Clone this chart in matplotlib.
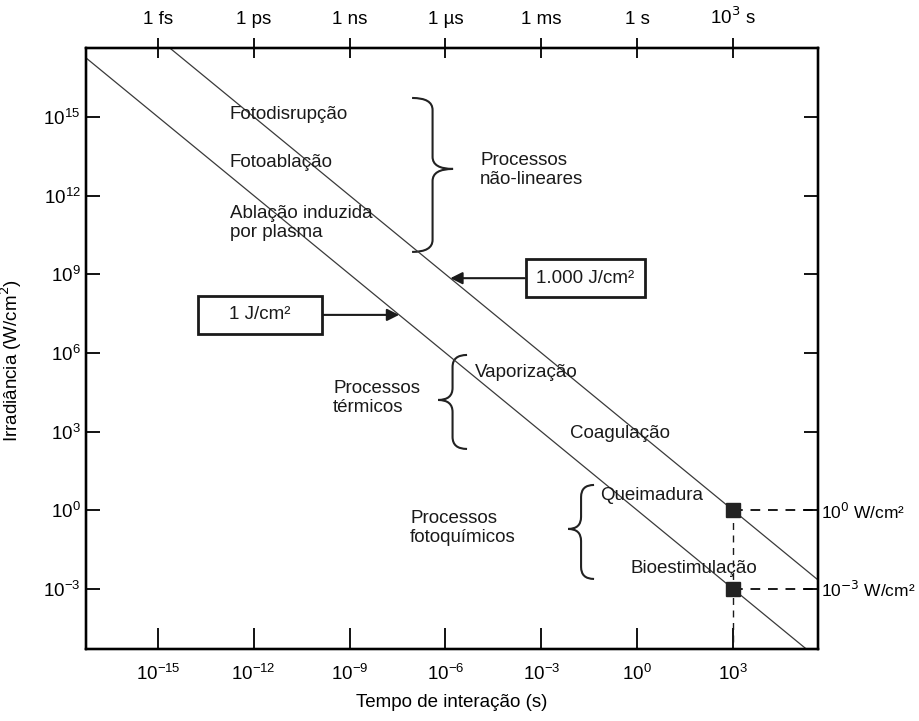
import matplotlib
matplotlib.use('Agg')
import matplotlib.pyplot as plt
from matplotlib.path import Path
from matplotlib.patches import PathPatch
from matplotlib.ticker import NullLocator

plt.rcParams['font.family'] = ['Liberation Sans', 'DejaVu Sans']
plt.rcParams['font.size'] = 13.5
plt.rcParams['text.color'] = '#1a1a1a'

# data
line_t = [1e-18, 1e6]            # interaction time (s), line ends
line_1J = [1e18, 1e-6]           # irradiance for 1 J/cm2
line_1000J = [1e21, 1e-3]        # irradiance for 1000 J/cm2
x_ticks = [1e-15, 1e-12, 1e-9, 1e-6, 1e-3, 1e0, 1e3]
top_labels = ['1 fs', '1 ps', '1 ns', '1 \u00b5s', '1 ms', '1 s', '10$^3$ s']
y_ticks = [1e-3, 1e0, 1e3, 1e6, 1e9, 1e12, 1e15]
right_labels = ['10$^{-3}$ W/cm\u00b2', '10$^0$ W/cm\u00b2', '', '', '', '', '']
marker_t = 1e3
marker_irr = [1e0, 1e-3]
arrow_1J = (10**-7.45, 10**7.45)
arrow_1000J = (10**-5.85, 10**8.85)
xlim = (10**-17.25, 10**5.66)
ylim = (10**-5.29, 10**17.63)

fig = plt.figure(figsize=(9.2, 7.21), dpi=100)
ax = fig.add_axes([0.0935, 0.0999, 0.7957, 0.8336])

for irr in [line_1J, line_1000J]:
    ax.plot(line_t, irr, color='#3a3a3a', lw=0.9)

ax.set_xscale('log')
ax.set_yscale('log')
ax.set_xlim(xlim)
ax.set_ylim(ylim)
ax.set_xticks(x_ticks)
ax.set_yticks(y_ticks)
ax.xaxis.set_minor_locator(NullLocator())
ax.yaxis.set_minor_locator(NullLocator())
ax.tick_params(axis='x', direction='in', length=15, width=1.3, pad=11)
ax.tick_params(axis='y', direction='in', length=10, width=1.3, pad=4)
for s in ax.spines.values():
    s.set_linewidth(1.6)

ax.set_xlabel('Tempo de intera\u00e7\u00e3o (s)', labelpad=7)
ax.set_ylabel('Irradi\u00e2ncia (W/cm$^2$)')
ax.yaxis.set_label_coords(-0.085, 0.48)

# top axis with time units
axt = ax.twiny()
axt.set_xscale('log')
axt.set_xlim(xlim)
axt.set_xticks(x_ticks)
axt.set_xticklabels(top_labels)
axt.xaxis.set_minor_locator(NullLocator())
axt.tick_params(axis='x', direction='inout', length=15, width=1.3, pad=7)

# right axis
axr = ax.twinx()
axr.set_yscale('log')
axr.set_ylim(ylim)
axr.set_yticks(y_ticks)
axr.set_yticklabels(right_labels, fontsize=12.5)
axr.yaxis.set_minor_locator(NullLocator())
axr.tick_params(axis='y', direction='in', length=10, width=1.3, pad=2)
for a in [axt, axr]:
    for s in a.spines.values():
        s.set_linewidth(1.6)

# marked points and dashed guides
for irr in marker_irr:
    ax.plot([marker_t, xlim[1]], [irr, irr], color='#1a1a1a', lw=1.4, ls=(0, (5, 4)))
ax.plot([marker_t, marker_t], [max(marker_irr), ylim[0]], color='#1a1a1a', lw=1.0, ls=(0, (5, 4)))
ax.plot([marker_t] * len(marker_irr), marker_irr, 's', color='#222222', ms=10, zorder=5)

# labelled boxes with arrows
box = dict(boxstyle='square,pad=0.55', fc='white', ec='#1a1a1a', lw=2)
arrow = dict(arrowstyle='-|>', color='#1a1a1a', lw=1.5, mutation_scale=18, shrinkA=0, shrinkB=0)
ax.annotate('1.000 J/cm\u00b2', xy=arrow_1000J, xytext=(10**-1.63, arrow_1000J[1]),
            ha='center', va='center', bbox=box, arrowprops=arrow)
ax.annotate('    1 J/cm\u00b2    ', xy=arrow_1J, xytext=(10**-11.81, arrow_1J[1]),
            ha='center', va='center', bbox=box, arrowprops=arrow)

# process labels
labels = [
    ('Fotodisrup\u00e7\u00e3o', -12.75, 15.08),
    ('Fotoabla\u00e7\u00e3o', -12.75, 13.28),
    ('Abla\u00e7\u00e3o induzida\npor plasma', -12.75, 10.96),
    ('Processos\nn\u00e3o-lineares', -4.92, 12.98),
    ('Processos\nt\u00e9rmicos', -9.52, 4.28),
    ('Vaporiza\u00e7\u00e3o', -5.08, 5.24),
    ('Coagula\u00e7\u00e3o', -2.10, 2.91),
    ('Processos\nfotoqu\u00edmicos', -7.11, -0.68),
    ('Queimadura', -1.16, 0.55),
    ('Bioestimula\u00e7\u00e3o', -0.22, -2.24),
]
for txt, lx, ly in labels:
    ax.text(10**lx, 10**ly, txt, ha='left', va='center', linespacing=1.1)


def brace(ax, x_end, x_tip, y_top, y_bot, y_mid, r=0.02):
    xs = (x_end + x_tip) / 2
    verts = [(x_end, y_top), (xs, y_top), (xs, y_top - r),
             (xs, y_mid + r), (xs, y_mid), (x_tip, y_mid),
             (xs, y_mid), (xs, y_mid - r),
             (xs, y_bot + r), (xs, y_bot), (x_end, y_bot)]
    codes = [Path.MOVETO, Path.CURVE3, Path.CURVE3, Path.LINETO,
             Path.CURVE3, Path.CURVE3, Path.CURVE3, Path.CURVE3,
             Path.LINETO, Path.CURVE3, Path.CURVE3]
    ax.add_patch(PathPatch(Path(verts, codes), transform=ax.transAxes,
                           fc='none', ec='#222222', lw=1.5))


brace(ax, 0.4454, 0.5014, 0.9168, 0.6606, 0.7987)
brace(ax, 0.5205, 0.4809, 0.4892, 0.3328, 0.4143)
brace(ax, 0.6940, 0.6585, 0.2729, 0.1165, 0.1997)

fig.savefig('out.png', dpi=100)
